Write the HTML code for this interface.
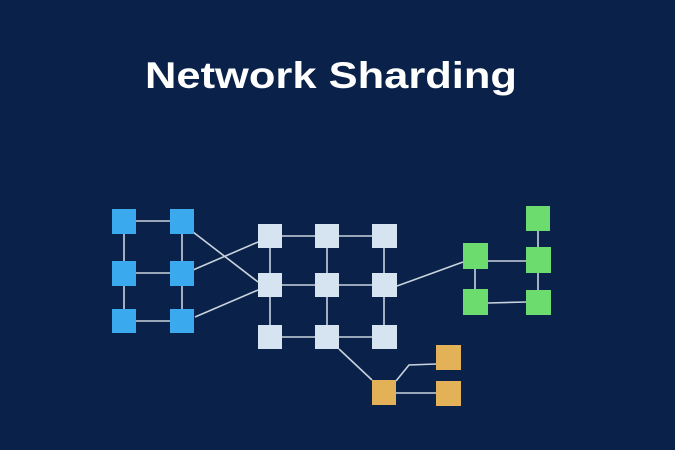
<!DOCTYPE html>
<html><head><style>
html,body{margin:0;padding:0;width:675px;height:450px;overflow:hidden;background:#0a2247}
</style></head><body>
<svg width="675" height="450" viewBox="0 0 675 450" xmlns="http://www.w3.org/2000/svg">
<rect width="675" height="450" fill="#0a2249"/>
<text x="331" y="88" text-anchor="middle" font-family="Liberation Sans, sans-serif" font-weight="bold" font-size="37" fill="#fff" textLength="372" lengthAdjust="spacingAndGlyphs">Network Sharding</text>
<g stroke="#c9d3de" stroke-width="1.6" fill="none">
<line x1="124" y1="221" x2="182" y2="221"/><line x1="124" y1="273" x2="182" y2="273"/><line x1="124" y1="321" x2="182" y2="321"/>
<line x1="124" y1="221" x2="124" y2="321"/><line x1="182" y1="221" x2="182" y2="321"/>
<line x1="193" y1="232" x2="258" y2="282"/><line x1="193" y1="270" x2="258" y2="242"/><line x1="195" y1="317" x2="258" y2="290"/>
<line x1="270" y1="236" x2="384" y2="236"/><line x1="270" y1="285" x2="384" y2="285"/><line x1="270" y1="337" x2="384" y2="337"/>
<line x1="270" y1="236" x2="270" y2="337"/><line x1="327" y1="236" x2="327" y2="337"/><line x1="384" y1="236" x2="384" y2="337"/>
<line x1="339" y1="349" x2="372" y2="380"/>
<line x1="397" y1="286" x2="463" y2="262"/>
<polyline points="396,381 409,365 436,364"/><line x1="396" y1="393" x2="436" y2="393"/>
<line x1="488" y1="261" x2="526" y2="261"/><line x1="538" y1="231" x2="538" y2="247"/><line x1="538" y1="273" x2="538" y2="290"/>
<line x1="475" y1="269" x2="475" y2="289"/><line x1="488" y1="303" x2="526" y2="302"/>
</g>
<g fill="#3aa9ee">
<rect x="112" y="209" width="24" height="25"/><rect x="170" y="209" width="24" height="25"/>
<rect x="112" y="261" width="24" height="25"/><rect x="170" y="261" width="24" height="25"/>
<rect x="112" y="309" width="24" height="24"/><rect x="170" y="309" width="24" height="24"/>
</g>
<g fill="#d6e3f0">
<rect x="258" y="224" width="24" height="24"/><rect x="315" y="224" width="24" height="24"/><rect x="372" y="224" width="25" height="24"/>
<rect x="258" y="273" width="24" height="24"/><rect x="315" y="273" width="24" height="24"/><rect x="372" y="273" width="25" height="24"/>
<rect x="258" y="325" width="24" height="24"/><rect x="315" y="325" width="24" height="24"/><rect x="372" y="325" width="25" height="24"/>
</g>
<g fill="#e3b157">
<rect x="372" y="380" width="24" height="25"/><rect x="436" y="345" width="25" height="25"/><rect x="436" y="381" width="25" height="25"/>
</g>
<g fill="#6ddc6e">
<rect x="463" y="243" width="25" height="26"/><rect x="526" y="206" width="24" height="25"/><rect x="526" y="247" width="25" height="26"/>
<rect x="463" y="289" width="25" height="26"/><rect x="526" y="290" width="25" height="25"/>
</g>
</svg>
</body></html>
